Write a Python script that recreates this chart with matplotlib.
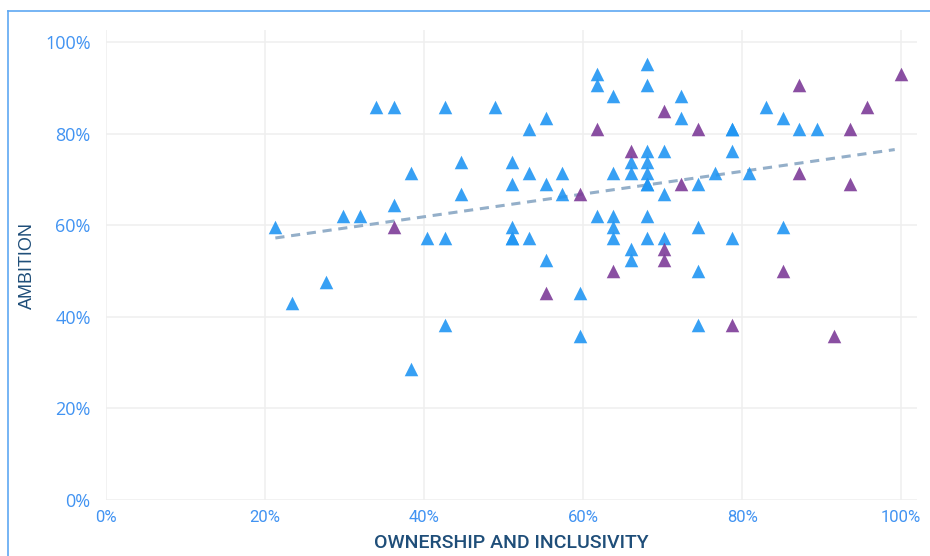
import matplotlib
matplotlib.use("Agg")
import matplotlib.pyplot as plt
from matplotlib.lines import Line2D
from matplotlib.ticker import FuncFormatter

# ==============================================================================
# DATA (percent values)
# ==============================================================================
BLUE_X = [21.3, 23.4, 27.7, 29.8, 31.9, 34.0, 36.2, 36.2, 38.3, 38.3,
          40.4, 42.6, 42.6, 42.6, 44.7, 44.7, 48.9, 51.1, 51.1, 51.1,
          51.1, 51.1, 53.2, 53.2, 53.2, 55.3, 55.3, 55.3, 57.4, 57.4,
          59.6, 59.6, 61.7, 61.7, 61.7, 63.8, 63.8, 63.8, 63.8, 63.8,
          66.0, 66.0, 66.0, 66.0, 68.1, 68.1, 68.1, 68.1, 68.1, 68.1,
          68.1, 68.1, 68.1, 70.2, 70.2, 70.2, 72.3, 72.3, 74.5, 74.5,
          74.5, 74.5, 76.6, 78.7, 78.7, 78.7, 78.7, 80.9, 83.0, 85.1,
          85.1, 87.2, 89.4]
BLUE_Y = [59.5, 42.9, 47.6, 61.9, 61.9, 85.7, 85.7, 64.3, 71.4, 28.6,
          57.1, 57.1, 85.7, 38.1, 73.8, 66.7, 85.7, 73.8, 69.0, 59.5,
          57.1, 57.1, 81.0, 71.4, 57.1, 83.3, 69.0, 52.4, 71.4, 66.7,
          45.2, 35.7, 92.9, 90.5, 61.9, 88.1, 71.4, 61.9, 59.5, 57.1,
          73.8, 71.4, 54.8, 52.4, 95.2, 90.5, 76.2, 73.8, 71.4, 69.0,
          69.0, 61.9, 57.1, 76.2, 66.7, 57.1, 88.1, 83.3, 69.0, 59.5,
          50.0, 38.1, 71.4, 81.0, 81.0, 76.2, 57.1, 71.4, 85.7, 83.3,
          59.5, 81.0, 81.0]

PURPLE_X = [36.2, 55.3, 59.6, 61.7, 63.8, 66.0, 70.2, 70.2, 70.2, 72.3,
            74.5, 78.7, 85.1, 87.2, 87.2, 91.5, 93.6, 93.6, 95.7, 100.0]
PURPLE_Y = [59.5, 45.2, 66.7, 81.0, 50.0, 76.2, 84.9, 54.8, 52.4, 69.0,
            81.0, 38.1, 50.0, 90.5, 71.4, 35.7, 81.0, 69.0, 85.7, 92.9]

TREND_X = [21.3, 99.2]
TREND_Y = [57.2, 76.5]

TICKS = [0, 20, 40, 60, 80, 100]
X_TITLE = "OWNERSHIP AND INCLUSIVITY"
Y_TITLE = "AMBITION"

W, H = 930, 556


def pct(v, _pos):
    return f"{v:.0f}%"


def main():
    fig = plt.figure(figsize=(W / 100, H / 100), dpi=100)
    fig.patch.set_facecolor("white")

    # plot area in pixels: left 106, right 917, top 30, bottom 500
    ax = fig.add_axes([106 / W, 1 - 500 / H, (917 - 106) / W, (500 - 30) / H])
    ax.set_xlim(0, 102)
    ax.set_ylim(0, 102.6)

    ax.set_xticks(TICKS)
    ax.set_yticks(TICKS)
    ax.xaxis.set_major_formatter(FuncFormatter(pct))
    ax.yaxis.set_major_formatter(FuncFormatter(pct))
    ax.grid(True, color="#efefef", linewidth=1.1)
    ax.set_axisbelow(True)
    for s in ax.spines.values():
        s.set_visible(False)

    ax.tick_params(axis="both", length=0)
    ax.tick_params(axis="y", pad=11, labelcolor="#4193f2", labelsize=13)
    ax.tick_params(axis="x", pad=7, labelcolor="#4193f2", labelsize=12)
    for lbl in ax.get_yticklabels():
        lbl.set_family(["Open Sans", "DejaVu Sans"])
    for lbl in ax.get_xticklabels():
        lbl.set_family(["Roboto", "DejaVu Sans"])

    ax.plot(TREND_X, TREND_Y, color="#94afc9", linewidth=2.2,
            dashes=(3.0, 2.2), zorder=2)

    ax.scatter(BLUE_X, BLUE_Y, marker="^", s=95, color="#2196f3",
               alpha=0.9, linewidths=0, zorder=3)
    ax.scatter(PURPLE_X, PURPLE_Y, marker="^", s=95, color="#7d3c98",
               alpha=0.9, linewidths=0, zorder=3)

    fig.text(511.5 / W, 1 - 543.5 / H, X_TITLE, ha="center", va="center",
             fontsize=14, fontweight="medium", color="#1f4e79",
             family=["Roboto", "DejaVu Sans"])
    fig.text(27 / W, 1 - 265.5 / H, Y_TITLE, ha="center", va="center",
             rotation=90, fontsize=13, color="#1f4e79",
             family=["Liberation Sans", "DejaVu Sans"])

    # card border (left and top edges visible)
    bx, by = 7.5 / W, 1 - 11 / H
    fig.add_artist(Line2D([bx, bx], [0, by], transform=fig.transFigure,
                          color="#5fa8f2", linewidth=1.2))
    fig.add_artist(Line2D([bx, 1], [by, by], transform=fig.transFigure,
                          color="#5fa8f2", linewidth=1.2))

    fig.savefig("out.png", dpi=100, facecolor="white")
    plt.close(fig)


if __name__ == "__main__":
    main()
